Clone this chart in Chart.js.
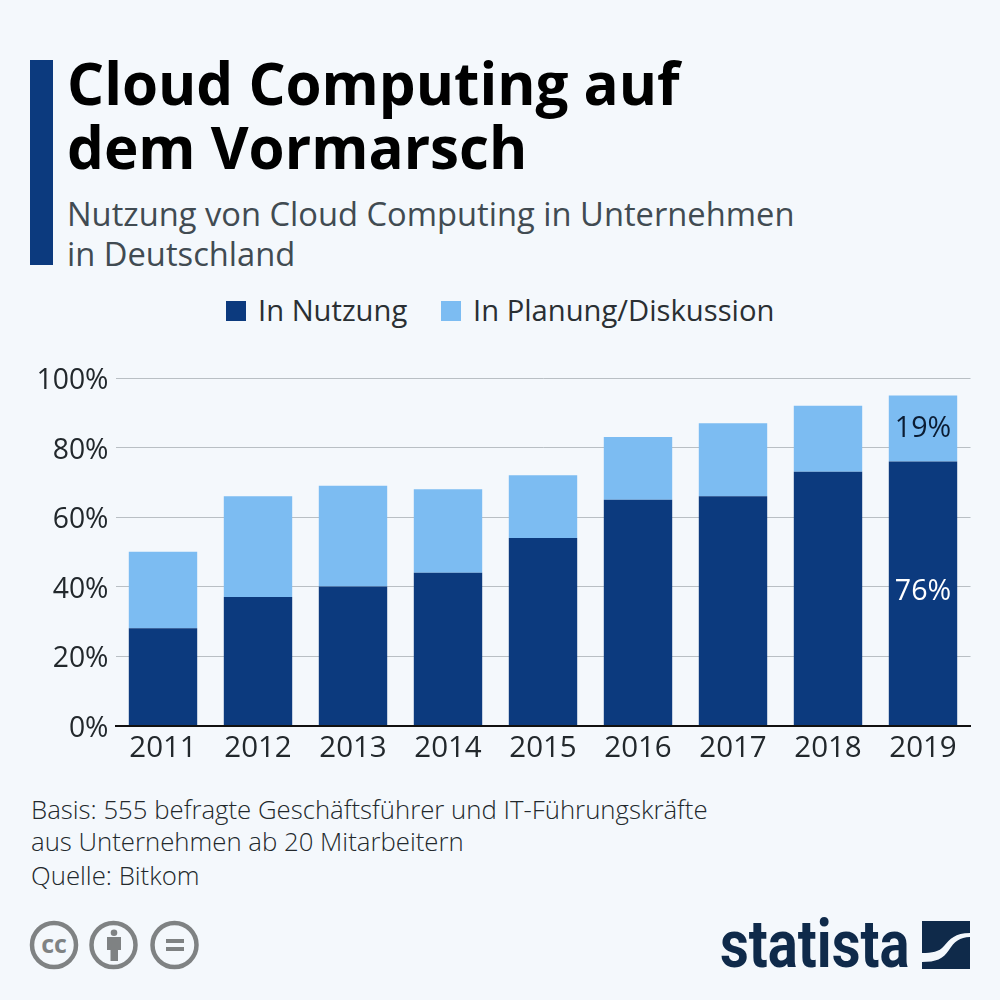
<!DOCTYPE html>
<html><head><meta charset="utf-8">
<style>
html,body{margin:0;padding:0;background:#f4f8fc;}
#wrap{position:relative;width:1000px;height:1000px;background:#f4f8fc;overflow:hidden;font-family:"Open Sans",sans-serif;}
.t{position:absolute;white-space:nowrap;}
canvas{position:absolute;left:0;top:0;}
</style></head><body>
<div id="wrap">
<div class="t" style="left:30px;top:60px;width:23px;height:205px;background:#0c3a7e"></div>
<div class="t" style="left:67px;top:51px;font-size:58.3px;line-height:64px;font-weight:700;color:#000">Cloud Computing auf<br>dem Vormarsch</div>
<div class="t" style="left:67px;top:194px;font-size:32.7px;line-height:40px;color:#414b52;font-weight:400">Nutzung von Cloud Computing in Unternehmen<br>in Deutschland</div>
<div class="t" style="left:226px;top:301px;width:20px;height:20px;background:#0c3a7e"></div>
<div class="t" style="left:258px;top:291px;font-size:29.2px;line-height:38px;color:#2a2f33">In Nutzung</div>
<div class="t" style="left:441px;top:301px;width:20px;height:20px;background:#7cbcf2"></div>
<div class="t" style="left:473px;top:291px;font-size:29.2px;line-height:38px;color:#2a2f33">In Planung/Diskussion</div>
<div class="t" style="left:31px;top:793px;font-size:25.75px;line-height:32px;font-weight:300;color:#22282c">Basis: 555 befragte Geschäftsführer und IT-Führungskräfte<br>aus Unternehmen ab 20 Mitarbeitern</div>
<div class="t" style="left:31px;top:859px;font-size:25.75px;line-height:32px;font-weight:300;color:#22282c">Quelle: Bitkom</div>
<svg class="t" style="left:0;top:900px" width="220" height="90" viewBox="0 900 220 90">
 <g fill="none" stroke="#7f8283" stroke-width="4.5"><circle cx="54" cy="945" r="22"/><circle cx="113.5" cy="945" r="22"/><circle cx="174.5" cy="945" r="22"/></g>
 <text x="54" y="953" text-anchor="middle" font-family="Open Sans" font-weight="700" font-size="25" fill="#7f8283">cc</text>
 <g fill="#7f8283"><circle cx="114" cy="932.7" r="3.3"/><rect x="107" y="937" width="14" height="13"/><rect x="110.5" y="950" width="7.5" height="11"/><rect x="166" y="939" width="18" height="4"/><rect x="166" y="947" width="18" height="4"/></g>
</svg>
<div class="t" style="left:720px;top:905px;font:700 66px/80px 'Roboto','Liberation Sans';color:#0f2a4a;transform-origin:left center;transform:scaleX(.85)">statista</div>
<svg class="t" style="left:922px;top:921px" width="48" height="48" viewBox="0 0 48 48"><path d="M0 0H48V12C33 12 28 18 22 25C17 31 10 32 0 32Z" fill="#0f2a4a"/><path d="M48 16V48H0V41C14 41 21 38 27 29C32 21 38 16 48 16Z" fill="#0f2a4a"/></svg>
<canvas id="c" width="1000" height="1000" style="width:1000px;height:1000px"></canvas>
</div>
<script src="https://cdn.jsdelivr.net/npm/chart.js@4"></script>
<script>
const categories=["2011","2012","2013","2014","2015","2016","2017","2018","2019"];
const inUse=[28,37,40,44,54,65,66,73,76];
const planned=[22,29,29,24,18,18,21,19,19];
const tickValues=[0,20,40,60,80,100];
const seriesNames=["In Nutzung","In Planung/Diskussion"];
const colors=["#0c3a7e","#7cbcf2"];
const annotated={8:true};
const labelPlugin={id:"lbl",afterDatasetsDraw(ch){
  const c=ch.ctx;c.save();c.font='28.6px "Open Sans"';c.textAlign="center";c.textBaseline="middle";
  ch.data.datasets.forEach((d,i)=>{
    ch.getDatasetMeta(i).data.forEach((b,j)=>{
      if(!annotated[j])return;
      c.fillStyle=i===0?"#ffffff":"#0b1c33";
      c.fillText(d.data[j]+"%",b.x,(b.y+b.base)/2-(i===0?1.5:0));
    });
  });c.restore();
}};
new Chart(document.getElementById("c"),{
 type:"bar",
 data:{labels:categories,datasets:[
  {label:seriesNames[0],data:inUse,backgroundColor:colors[0],stack:"a",barPercentage:.72,categoryPercentage:1},
  {label:seriesNames[1],data:planned,backgroundColor:colors[1],stack:"a",barPercentage:.72,categoryPercentage:1}]},
 options:{responsive:false,animation:false,
  layout:{padding:{left:0,right:29.5,top:378,bottom:237}},
  plugins:{legend:{display:false},tooltip:{enabled:false}},
  scales:{
   x:{stacked:true,grid:{display:false},border:{color:"#111111",width:2,z:2},
      ticks:{color:"#22282c",font:{family:"Open Sans",size:29.5},padding:-3,maxRotation:0}},
   y:{stacked:true,min:0,max:100,afterBuildTicks(a){a.ticks=tickValues.map(v=>({value:v}));},
      afterFit(a){a.width=115.5;},
      grid:{color:"#b9bfc4",lineWidth:1,drawTicks:false},border:{display:false},
      ticks:{color:"#22282c",font:{family:"Open Sans",size:28.3},padding:7,labelOffset:3,callback:v=>v+"%"}}
  }},
 plugins:[labelPlugin]
});
</script>
</body></html>
